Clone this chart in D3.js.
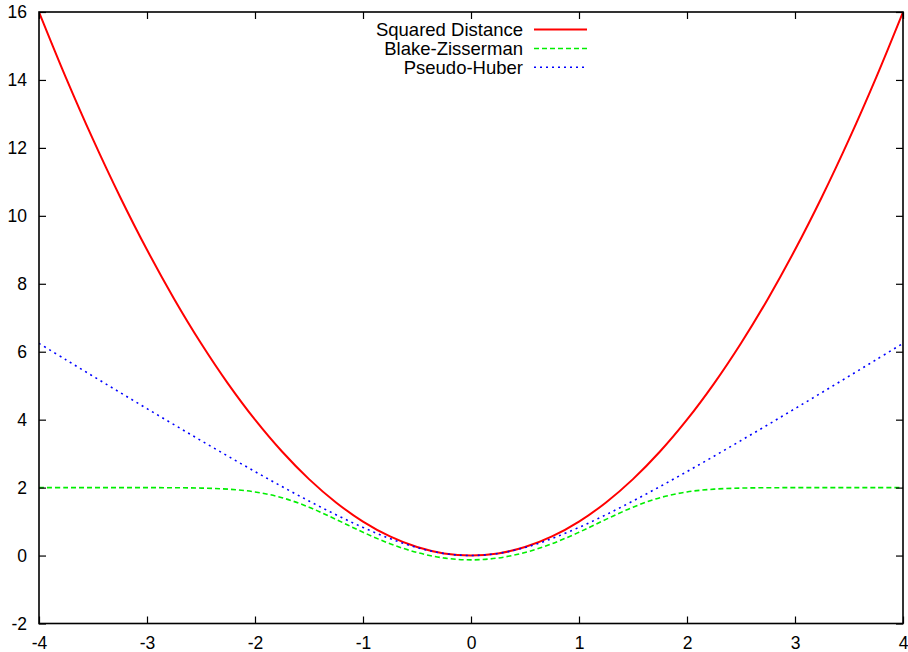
<!DOCTYPE html>
<html>
<head>
<meta charset="utf-8">
<script src="https://cdn.jsdelivr.net/npm/d3@7"></script>
<style>
  html, body { margin: 0; padding: 0; background: #fff; }
  svg { display: block; font-family: "Liberation Sans", Arial, Helvetica, sans-serif; }
</style>
</head>
<body>
<svg id="chart" width="908" height="652"></svg>
<script>
// Sample positions along the x axis
const xs = [-4, -3.75, -3.5, -3.25, -3, -2.75, -2.5, -2.25, -2, -1.75, -1.5, -1.25, -1, -0.75, -0.5, -0.25,
            0, 0.25, 0.5, 0.75, 1, 1.25, 1.5, 1.75, 2, 2.25, 2.5, 2.75, 3, 3.25, 3.5, 3.75, 4];

// Cost values at each sample
const squaredDistance = [16, 14.0625, 12.25, 10.5625, 9, 7.5625, 6.25, 5.0625, 4, 3.0625, 2.25, 1.5625, 1, 0.5625, 0.25, 0.0625,
                         0, 0.0625, 0.25, 0.5625, 1, 1.5625, 2.25, 3.0625, 4, 5.0625, 6.25, 7.5625, 9, 10.5625, 12.25, 14.0625, 16];
const blakeZisserman = [2.0, 2.0, 2.0, 1.9998, 1.9991, 1.9962, 1.9858, 1.9543, 1.8731, 1.7031, 1.4241, 1.0644, 0.6868, 0.3494, 0.0898, -0.0721,
                        -0.1269, -0.0721, 0.0898, 0.3494, 0.6868, 1.0644, 1.4241, 1.7031, 1.8731, 1.9543, 1.9858, 1.9962, 1.9991, 1.9998, 2.0, 2.0, 2.0];
const pseudoHuber = [6.2462, 5.7621, 5.2801, 4.8007, 4.3246, 3.8524, 3.3852, 2.9244, 2.4721, 2.0311, 1.6056, 1.2016, 0.8284, 0.5, 0.2361, 0.0616,
                     0, 0.0616, 0.2361, 0.5, 0.8284, 1.2016, 1.6056, 2.0311, 2.4721, 2.9244, 3.3852, 3.8524, 4.3246, 4.8007, 5.2801, 5.7621, 6.2462];

const xTicks = [-4, -3, -2, -1, 0, 1, 2, 3, 4];
const yTicks = [-2, 0, 2, 4, 6, 8, 10, 12, 14, 16];

const seriesNames = ["Squared Distance", "Blake-Zisserman", "Pseudo-Huber"];
const seriesValues = [squaredDistance, blakeZisserman, pseudoHuber];
const seriesColors = ["#ff0000", "#00ee00", "#0000ff"];
const seriesDash = [null, "5,3", "2,4"];
const seriesWidth = [2, 1.6, 1.6];

const plotLeft = 39, plotRight = 903, plotTop = 12, plotBottom = 623.5;
const tickLen = 7;
const tickFont = 17.5;
const legendFont = 18.5;
const plainNumber = d => String(d);   // hyphen-minus for negatives

const svg = d3.select("#chart");
const x = d3.scaleLinear().domain([-4, 4]).range([plotLeft, plotRight]);
const y = d3.scaleLinear().domain([-2, 16]).range([plotBottom, plotTop]);

svg.append("defs").append("clipPath").attr("id", "plotClip")
  .append("rect").attr("x", plotLeft).attr("y", plotTop - 1)
  .attr("width", plotRight - plotLeft).attr("height", plotBottom - plotTop + 2);

// Curves
const line = d3.line()
  .x(d => x(d[0]))
  .y(d => y(d[1]))
  .curve(d3.curveCatmullRom.alpha(0.5));

const curves = svg.append("g").attr("clip-path", "url(#plotClip)");
seriesValues.forEach((vals, i) => {
  curves.append("path")
    .datum(xs.map((xv, j) => [xv, vals[j]]))
    .attr("d", line)
    .attr("fill", "none")
    .attr("stroke", seriesColors[i])
    .attr("stroke-width", seriesWidth[i])
    .attr("stroke-dasharray", seriesDash[i]);
});

// Axes with inward ticks, mirrored on the opposite sides
const axisStyle = g => {
  g.select(".domain").remove();
  g.selectAll(".tick line").attr("stroke", "#000").attr("stroke-width", 1.2);
  g.selectAll(".tick text").attr("fill", "#000").attr("font-size", tickFont)
    .attr("font-family", "'Liberation Sans', Arial, sans-serif");
};

svg.append("g").attr("transform", `translate(0,${plotBottom})`)
  .call(d3.axisBottom(x).tickValues(xTicks).tickSize(-tickLen).tickPadding(13).tickFormat(plainNumber))
  .call(axisStyle);
svg.append("g").attr("transform", `translate(0,${plotTop})`)
  .call(d3.axisTop(x).tickValues(xTicks).tickSize(-tickLen).tickFormat(""))
  .call(axisStyle);
svg.append("g").attr("transform", `translate(${plotLeft},0)`)
  .call(d3.axisLeft(y).tickValues(yTicks).tickSize(-tickLen).tickPadding(12).tickFormat(plainNumber))
  .call(axisStyle);
svg.append("g").attr("transform", `translate(${plotRight},0)`)
  .call(d3.axisRight(y).tickValues(yTicks).tickSize(-tickLen).tickFormat(""))
  .call(axisStyle);

// Plot border
svg.append("rect")
  .attr("x", plotLeft).attr("y", plotTop)
  .attr("width", plotRight - plotLeft).attr("height", plotBottom - plotTop)
  .attr("fill", "none").attr("stroke", "#000").attr("stroke-width", 1.6);

// Legend
const legend = svg.append("g");
const rowY = [29.5, 48.5, 67.3];
seriesNames.forEach((name, i) => {
  legend.append("text")
    .attr("x", 523).attr("y", rowY[i])
    .attr("dy", "0.35em")
    .attr("text-anchor", "end")
    .attr("font-size", legendFont)
    .attr("fill", "#000")
    .text(name);
  legend.append("line")
    .attr("x1", 534).attr("x2", 587)
    .attr("y1", rowY[i]).attr("y2", rowY[i])
    .attr("stroke", seriesColors[i])
    .attr("stroke-width", seriesWidth[i])
    .attr("stroke-dasharray", seriesDash[i]);
});
</script>
</body>
</html>
